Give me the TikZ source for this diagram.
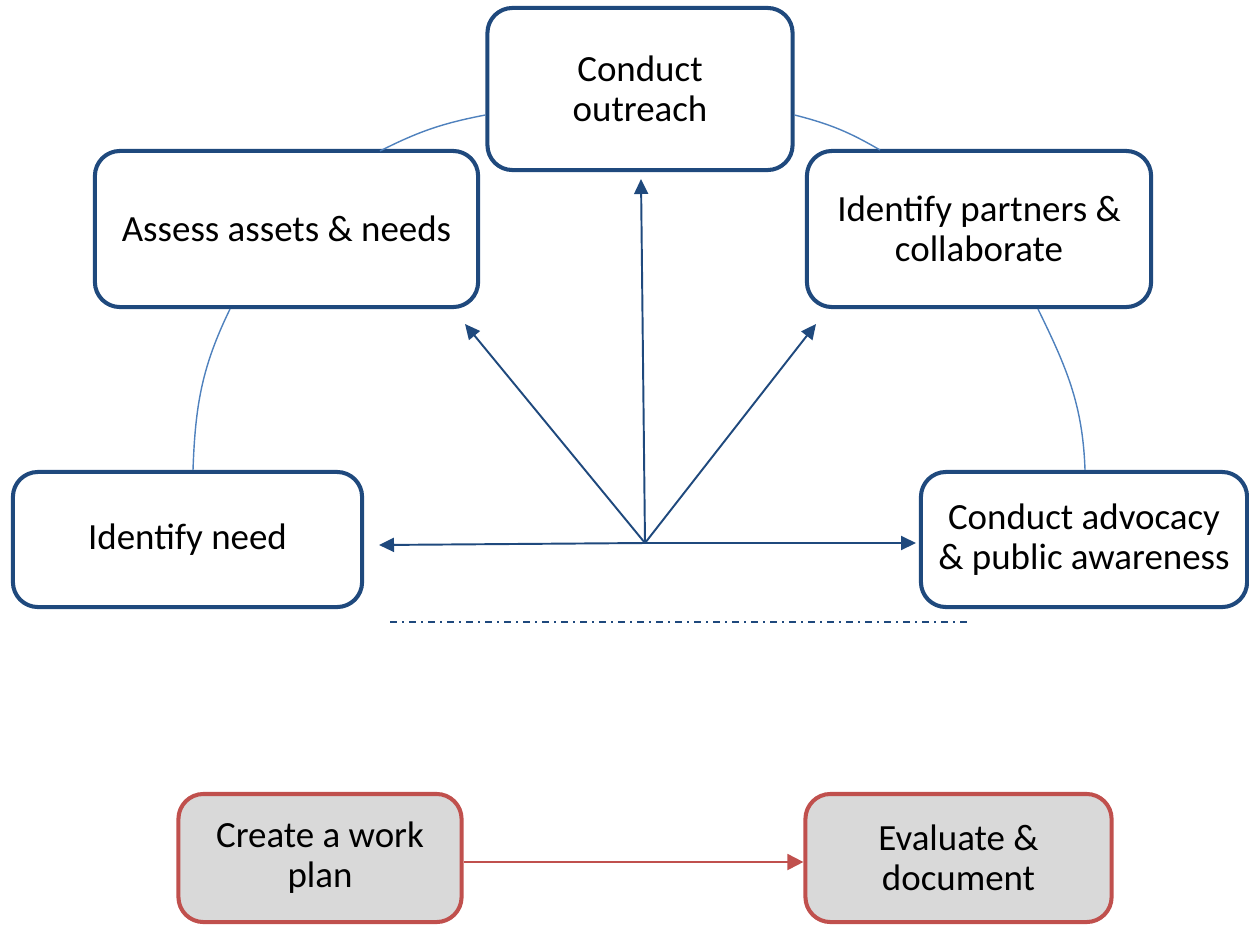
\documentclass[tikz,border=0pt]{standalone}
\usepackage{fontspec}
\setmainfont{Carlito}
\usetikzlibrary{arrows.meta}

\definecolor{boxblue}{HTML}{1F497D}
\definecolor{arcblue}{HTML}{4F81BD}
\definecolor{boxred}{HTML}{C0504D}
\definecolor{boxgray}{HTML}{D9D9D9}

\tikzset{
	stage/.style={draw=boxblue,line width=1.15pt,rounded corners=0.25cm,fill=white,align=center,
		font=\fontsize{10.5}{11.4}\selectfont,inner sep=0pt},
	task/.style={stage,draw=boxred,fill=boxgray},
	spoke/.style={draw=boxblue,line width=0.55pt,-{Triangle[length=0.15cm,width=0.14cm]}},
	link/.style={draw=arcblue,line width=0.4pt}
}

\begin{document}
\begin{tikzpicture}[x=0.01cm,y=-0.01cm]
	\useasboundingbox (0,0) rectangle (1249,924);
	% the circle of stages
	\node[stage,minimum width=3.05cm,minimum height=1.62cm] (outreach) at (640,89) {Conduct\\outreach};
	\node[stage,minimum width=3.83cm,minimum height=1.56cm] (assess) at (286.5,229) {Assess assets \& needs};
	\node[stage,minimum width=3.44cm,minimum height=1.56cm] (partners) at (979,229) {Identify partners \&\\collaborate};
	\node[stage,minimum width=3.49cm,minimum height=1.35cm] (need) at (187.5,539.5) {Identify need};
	\node[stage,minimum width=3.26cm,minimum height=1.35cm] (advocacy) at (1084,539.5) {Conduct advocacy\\\& public awareness};
	% thin arcs between stages
	\draw[link] (380,151) to[bend left=8] (outreach.west |- 0,115);
	\draw[link] (outreach.east |- 0,115) to[bend left=8] (880,150);
	\draw[link] (need.north -| 193,0) to[out=88,in=-116] (assess.south -| 230,0);
	\draw[link] (partners.south -| 1038,0) to[out=-64,in=92] (advocacy.north -| 1085,0);
	% spokes from the hub
	\coordinate (hub) at (645,543);
	\coordinate (tipL) at (379,545);
	\coordinate (tipR) at (916,543);
	\coordinate (tipU) at (641,179);
	\coordinate (tipUL) at (465,324);
	\coordinate (tipUR) at (816,324);
	\foreach \t in {tipL,tipR,tipU,tipUL,tipUR}
		\draw[spoke] (hub) -- (\t);
	\coordinate (dashA) at (390,622);
	\coordinate (dashB) at (970,622);
	\draw[boxblue,line width=0.55pt,dash pattern=on 0.07cm off 0.05cm on 0.02cm off 0.05cm] (dashA) -- (dashB);
	% work plan and evaluation
	\node[task,minimum width=2.83cm,minimum height=1.28cm] (plan) at (320,858) {Create a work\\plan};
	\node[task,minimum width=3.06cm,minimum height=1.28cm] (evaluate) at (958.5,858) {Evaluate \&\\document};
	\draw[boxred,line width=0.55pt,-{Triangle[length=0.16cm,width=0.16cm]}] (plan.east |- 0,862) -- (evaluate.west |- 0,862);
\end{tikzpicture}
\end{document}
